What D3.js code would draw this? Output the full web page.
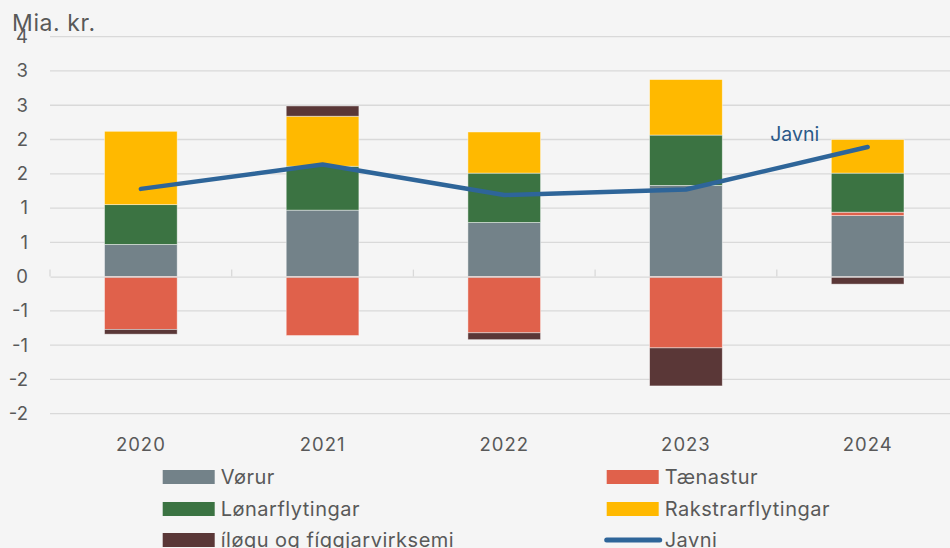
<!DOCTYPE html>
<html>
<head>
<meta charset="utf-8">
<script src="https://cdn.jsdelivr.net/npm/d3@7"></script>
<style>
  html, body { margin: 0; padding: 0; background: #f5f5f5; }
  svg { display: block; font-family: Inter, Roboto, sans-serif; }
</style>
</head>
<body>
<svg id="chart" width="950" height="548"></svg>
<script>
// Categories and series (billion kr.)
const years = ["2020", "2021", "2022", "2023", "2024"];
const vorur = [0.47, 0.97, 0.79, 1.33, 0.89];
const taenastur = [-0.77, -0.86, -0.82, -1.04, 0.05];
const lonarflytingar = [0.58, 0.64, 0.72, 0.735, 0.57];
const rakstrarflytingar = [1.07, 0.73, 0.60, 0.81, 0.49];
const iloegu = [-0.07, 0.15, -0.10, -0.555, -0.11];
const javni = [1.28, 1.635, 1.19, 1.27, 1.89];
const yTicks = [-2, -1.5, -1, -0.5, 0, 0.5, 1, 1.5, 2, 2.5, 3, 3.5];

const seriesNames = ["Vørur", "Tænastur", "Lønarflytingar", "Rakstrarflytingar", "íløgu og fíggjarvirksemi"];
const seriesValues = [vorur, taenastur, lonarflytingar, rakstrarflytingar, iloegu];
const colors = ["#738289", "#e0614b", "#3b7342", "#ffb900", "#5a3737"];
const lineColor = "#2e6599";
const textColor = "#595959";
const font = "Inter, Roboto, sans-serif";

const svg = d3.select("#chart");
const W = 950, H = 548;
const plot = { left: 50, right: 958.5, top: 36.7, bottom: 413.7 };

const table = years.map((y, i) => {
  const row = { year: y };
  seriesNames.forEach((n, k) => row[n] = seriesValues[k][i]);
  return row;
});

const x = d3.scaleBand().domain(years).range([plot.left, plot.right]).paddingInner(0).paddingOuter(0);
const y = d3.scaleLinear().domain([-2, 3.5]).range([plot.bottom, plot.top]);
const barW = x.bandwidth() * 0.4;

// Labels are rounded to whole numbers, half away from zero
const fmt = v => { const r = Math.sign(v) * Math.round(Math.abs(v)); return (r === 0 ? 0 : r).toString(); };

// Gridlines
svg.append("g")
  .selectAll("line").data(yTicks.filter(t => t !== 0)).join("line")
  .attr("x1", plot.left).attr("x2", W)
  .attr("y1", d => y(d)).attr("y2", d => y(d))
  .attr("stroke", "#d9d9d9").attr("stroke-width", 1.3);

// Y axis labels
const yAxis = d3.axisLeft(y).tickValues(yTicks).tickFormat(fmt).tickSize(0).tickPadding(0);
const gy = svg.append("g").attr("transform", "translate(28,0)").call(yAxis);
gy.select(".domain").remove();
gy.selectAll("text").attr("font-size", 18.5).attr("fill", textColor).attr("font-family", font);

// Stacked bars
const stack = d3.stack().keys(seriesNames).offset(d3.stackOffsetDiverging);
const stacked = stack(table);
svg.append("g").selectAll("g").data(stacked).join("g")
  .attr("fill", (d, i) => colors[i])
  .selectAll("rect").data(d => d).join("rect")
  .attr("x", d => x(d.data.year) + (x.bandwidth() - barW) / 2)
  .attr("width", barW)
  .attr("y", d => y(Math.max(d[0], d[1])))
  .attr("height", d => Math.abs(y(d[0]) - y(d[1])))
  .attr("stroke", "#ffffff").attr("stroke-opacity", 0.55).attr("stroke-width", 0.8);

// Zero line and category ticks
const xAxis = d3.axisTop(x).tickSize(0).tickFormat("");
const gx = svg.append("g").attr("transform", `translate(0,${y(0)})`).call(xAxis);
gx.select(".domain").attr("stroke", "#d9d9d9").attr("stroke-width", 1.3);
gx.selectAll(".tick").remove();
const bounds = years.map(d => x(d)).concat([plot.right]);
gx.selectAll("line.sep").data(bounds).join("line").attr("class", "sep")
  .attr("x1", d => d).attr("x2", d => d).attr("y1", 0).attr("y2", -7)
  .attr("stroke", "#d9d9d9").attr("stroke-width", 1.3);

// Year labels along the bottom
const xLabels = d3.axisBottom(x).tickSize(0).tickPadding(0);
const gxl = svg.append("g").attr("transform", "translate(0,451)").call(xLabels);
gxl.select(".domain").remove();
gxl.selectAll("text").attr("dy", 0).attr("font-size", 18.5).attr("letter-spacing", 1)
  .attr("fill", textColor).attr("font-family", font);

// Net line
const line = d3.line().x((d, i) => x(years[i]) + x.bandwidth() / 2).y(d => y(d));
svg.append("path").datum(javni)
  .attr("d", line).attr("fill", "none")
  .attr("stroke", lineColor).attr("stroke-width", 4.5)
  .attr("stroke-linecap", "round").attr("stroke-linejoin", "round");

svg.append("text")
  .attr("x", x("2024") + x.bandwidth() / 2 - 73).attr("y", y(javni[4]) - 6)
  .attr("text-anchor", "middle").attr("font-size", 19.5).attr("fill", "#2b5a88")
  .text("Javni");

// Unit label
svg.append("text").attr("x", 12).attr("y", 31)
  .attr("font-size", 23).attr("letter-spacing", 0.6).attr("fill", textColor).text("Mia. kr.");

// Legend
const legendItems = [
  { name: "Vørur", color: colors[0], type: "rect", col: 0, row: 0 },
  { name: "Tænastur", color: colors[1], type: "rect", col: 1, row: 0 },
  { name: "Lønarflytingar", color: colors[2], type: "rect", col: 0, row: 1 },
  { name: "Rakstrarflytingar", color: colors[3], type: "rect", col: 1, row: 1 },
  { name: "íløgu og fíggjarvirksemi", color: colors[4], type: "rect", col: 0, row: 2 },
  { name: "Javni", color: lineColor, type: "line", col: 1, row: 2 }
];
const colX = [162.7, 606.7], rowY = [477, 509, 540];
const lg = svg.append("g").selectAll("g").data(legendItems).join("g")
  .attr("transform", d => `translate(${colX[d.col]},${rowY[d.row]})`);
lg.filter(d => d.type === "rect").append("rect")
  .attr("x", 0).attr("y", -7).attr("width", 52).attr("height", 14)
  .attr("fill", d => d.color);
lg.filter(d => d.type === "line").append("line")
  .attr("x1", 0).attr("x2", 53).attr("y1", 0).attr("y2", 0)
  .attr("stroke", d => d.color).attr("stroke-width", 5).attr("stroke-linecap", "round");
lg.append("text").attr("x", 58).attr("y", 0).attr("dy", "0.35em")
  .attr("font-size", 20).attr("letter-spacing", 0.5).attr("fill", textColor).text(d => d.name);
</script>
</body>
</html>
